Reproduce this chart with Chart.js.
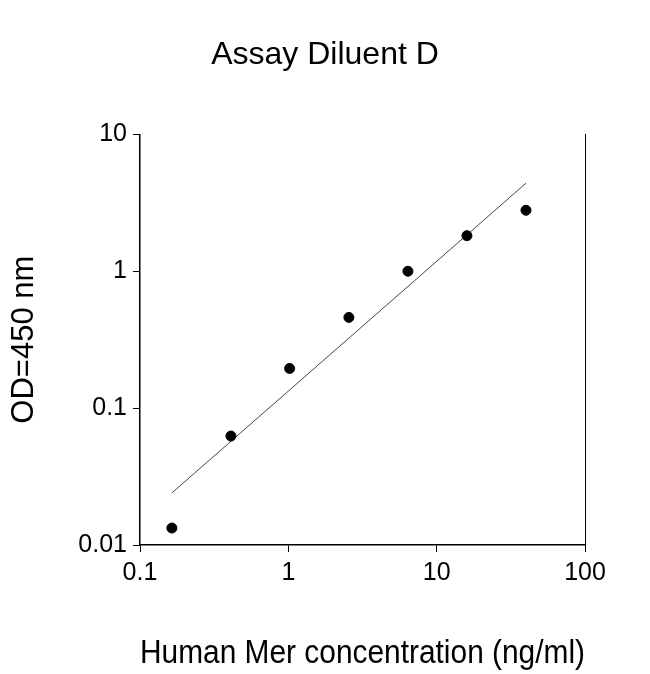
<!DOCTYPE html>
<html>
<head>
<meta charset="utf-8">
<script src="https://cdn.jsdelivr.net/npm/chart.js@4/dist/chart.umd.min.js"></script>
<style>
  body { margin: 0; background: #fff; }
  #wrap { width: 650px; height: 674px; }
</style>
</head>
<body>
<div id="wrap"><canvas id="c"></canvas></div>
<script>
const concentrations = [0.164, 0.41, 1.02, 2.56, 6.4, 16, 40];
const odValues = [0.0133, 0.0625, 0.195, 0.46, 1.0, 1.82, 2.79];
const fitX = [0.164, 40];
const fitY = [0.024, 4.4];
const xTicks = [0.1, 1, 10, 100];
const yTicks = [0.01, 0.1, 1, 10];

const font = "Arial, 'Liberation Sans', sans-serif";

function toPoints(xs, ys) {
    return xs.map((x, i) => ({ x: x, y: ys[i] }));
}

function majorTicks(list) {
    return function (scale) {
        scale.ticks = list.map(v => ({ value: v, major: true }));
    };
}

new Chart(document.getElementById("c"), {
    type: 'scatter',
    data: {
        datasets: [
            {
                data: toPoints(concentrations, odValues),
                backgroundColor: '#000',
                borderColor: '#000',
                pointRadius: 5,
                pointStyle: 'circle'
            },
            {
                type: 'line',
                data: toPoints(fitX, fitY),
                borderColor: '#444',
                borderWidth: 1,
                pointRadius: 0,
                fill: false
            }
        ]
    },
    options: {
        responsive: true,
        maintainAspectRatio: false,
        animation: false,
        layout: { padding: 0 },
        plugins: {
            legend: { display: false },
            tooltip: { enabled: false },
            title: {
                display: true,
                text: 'Assay Diluent D',
                color: '#000',
                font: { family: font, size: 32, weight: 'normal' },
                padding: { top: 36, bottom: 60 }
            }
        },
        scales: {
            x: {
                type: 'logarithmic',
                min: 0.1,
                max: 100,
                afterBuildTicks: majorTicks(xTicks),
                afterFit: s => { s.height = 129; },
                border: { color: '#000', width: 1.5 },
                grid: { display: true, drawOnChartArea: false, tickLength: 7, color: '#000' },
                ticks: {
                    color: '#000',
                    font: { family: font, size: 25 },
                    padding: 6,
                    autoSkip: false,
                    maxRotation: 0,
                    callback: v => String(v)
                },
                title: {
                    display: true,
                    text: 'Human Mer concentration (ng/ml)',
                    color: '#000',
                    font: { family: font, size: 34 },
                    padding: { top: 0, bottom: 0 }
                }
            },
            y: {
                type: 'logarithmic',
                min: 0.01,
                max: 10,
                afterBuildTicks: majorTicks(yTicks),
                afterFit: s => { s.width = 140; },
                border: { color: '#000', width: 1.5 },
                grid: { display: true, drawOnChartArea: false, tickLength: 7, color: '#000' },
                ticks: {
                    color: '#000',
                    font: { family: font, size: 25 },
                    padding: 6,
                    autoSkip: false,
                    callback: v => String(v)
                },
                title: {
                    display: true,
                    text: 'OD=450 nm',
                    color: '#000',
                    font: { family: font, size: 31 },
                    padding: { top: 6, bottom: 0 }
                }
            },
            y2: {
                type: 'logarithmic',
                position: 'right',
                min: 0.01,
                max: 10,
                afterFit: s => { s.width = 65; },
                border: { color: '#000', width: 1 },
                grid: { display: false },
                ticks: { display: false }
            }
        }
    }
});
</script>
</body>
</html>
